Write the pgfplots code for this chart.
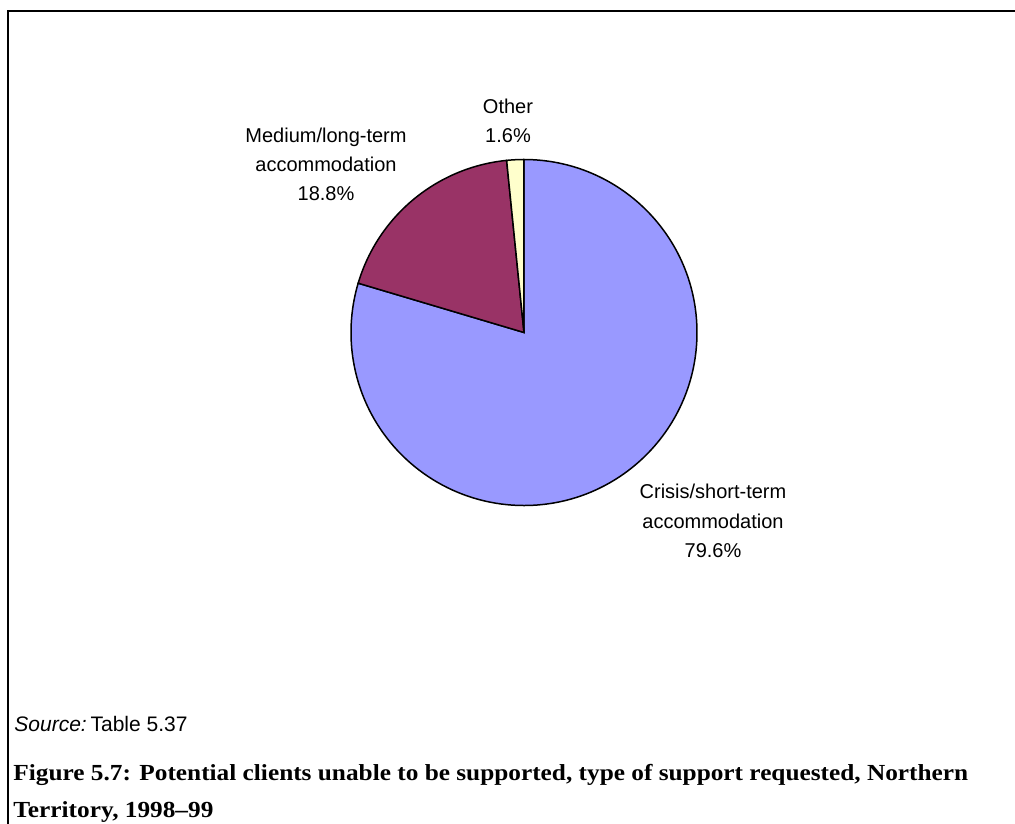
\documentclass[border=0pt]{standalone}
\usepackage{pgfplots}
\pgfplotsset{compat=1.18}
\usepackage{fontspec}
\setmainfont{Liberation Sans}
\newfontfamily\capfont[FakeStretch=1.1]{Liberation Serif}

% share of potential clients by type of support requested (per cent)
\def\crisis{79.6}
\def\medium{18.8}
\def\other{1.6}

\definecolor{crisiscol}{HTML}{9999FF}
\definecolor{mediumcol}{HTML}{993366}
\definecolor{othercol}{HTML}{FFFFCC}

\begin{document}
\begin{tikzpicture}
% picture area: 1015 x 824 units, 1 unit = 0.5bp
\useasboundingbox (0,0) rectangle (507.5bp,412bp);
\clip (0,0) rectangle (507.5bp,412bp);

% slices run clockwise from twelve o'clock
\pgfmathsetmacro{\aA}{90}
\pgfmathsetmacro{\aB}{90-3.6*\crisis}
\pgfmathsetmacro{\aC}{\aB-3.6*\medium}
\pgfmathsetmacro{\aD}{\aC-3.6*\other}
\def\cx{524}
\def\cy{491.5}
\def\r{173}

\begin{axis}[
  at={(0,0)}, anchor=south west,
  x=0.5bp, y=0.5bp, scale only axis,
  xmin=0, xmax=1015, ymin=0, ymax=824,
  hide axis, clip=false,
]
\filldraw[fill=crisiscol, draw=black, line width=0.75bp]
  (axis cs:\cx,\cy) -- (axis cs:{\cx+\r*cos(\aA)},{\cy+\r*sin(\aA)})
  arc[start angle=\aA, end angle=\aB, radius=86.5bp] -- cycle;
\filldraw[fill=mediumcol, draw=black, line width=0.75bp]
  (axis cs:\cx,\cy) -- (axis cs:{\cx+\r*cos(\aB)},{\cy+\r*sin(\aB)})
  arc[start angle=\aB, end angle=\aC, radius=86.5bp] -- cycle;
\filldraw[fill=othercol, draw=black, line width=0.75bp]
  (axis cs:\cx,\cy) -- (axis cs:{\cx+\r*cos(\aC)},{\cy+\r*sin(\aC)})
  arc[start angle=\aC, end angle=\aD, radius=86.5bp] -- cycle;

% slice labels
\begin{scope}[every node/.style={anchor=base, inner sep=0pt, font=\fontsize{10bp}{12bp}\selectfont}]
\node at (axis cs:508,711) {Other};
\node at (axis cs:508,682) {\other\%};
\node at (axis cs:326,682) {Medium/long-term};
\node at (axis cs:326,653) {accommodation};
\node at (axis cs:326,624) {\medium\%};
\node at (axis cs:713,325) {Crisis/short-term};
\node at (axis cs:713,296) {accommodation};
\node at (axis cs:713,267) {\crisis\%};
\end{scope}
\end{axis}

% frame
\draw[line width=0.75bp] (4bp,-5bp) -- (4bp,406.5bp) -- (520bp,406.5bp);

% source and caption
\node[anchor=base west, inner sep=0pt, font=\fontsize{10.5bp}{12bp}\selectfont]
  at (7bp,46bp) {\textit{Source:}\kern-1bp\ Table 5.37};
\node[anchor=base west, inner sep=0pt, font=\capfont\bfseries\fontsize{11.5bp}{14bp}\selectfont]
  at (6.5bp,22bp) {Figure 5.7: Potential clients unable to be supported, type of support requested, Northern};
\node[anchor=base west, inner sep=0pt, font=\capfont\bfseries\fontsize{11.5bp}{14bp}\selectfont]
  at (6.5bp,3.5bp) {Territory, 1998–99};
\end{tikzpicture}
\end{document}
